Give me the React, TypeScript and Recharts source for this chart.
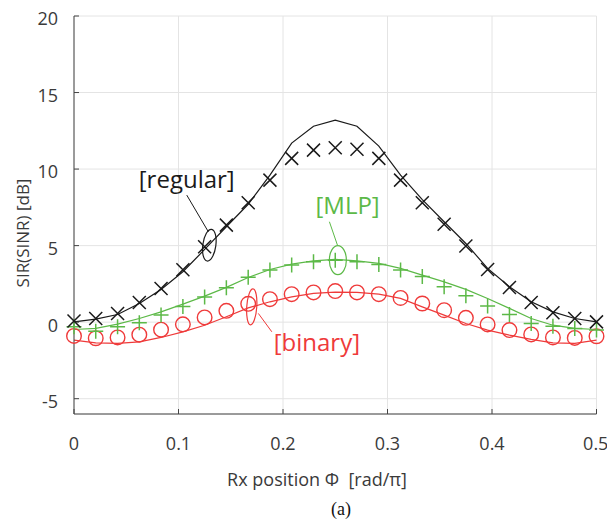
import React from "react"
import {
  ComposedChart,
  Line,
  XAxis,
  YAxis,
  CartesianGrid,
  ReferenceDot,
  ReferenceLine,
} from "recharts"

// Rx position (rad/pi), 25 samples
const positions = [
  0, 0.0208, 0.0417, 0.0625, 0.0833, 0.1042, 0.125, 0.1458, 0.1667, 0.1875, 0.2083, 0.2292, 0.25,
  0.2708, 0.2917, 0.3125, 0.3333, 0.3542, 0.375, 0.3958, 0.4167, 0.4375, 0.4583, 0.4792, 0.5,
]

// [regular]
const regularMarks = [
  0.08, 0.24, 0.57, 1.29, 2.2, 3.42, 4.92, 6.34, 7.8, 9.28, 10.7, 11.24, 11.39, 11.29, 10.7, 9.28,
  7.8, 6.4, 4.97, 3.44, 2.27, 1.29, 0.61, 0.24, 0.02,
]
const regularCurve = [
  0.02, 0.2, 0.5, 1.22, 2.14, 3.29, 4.75, 6.23, 7.7, 9.6, 11.7, 12.8, 13.2, 12.8, 11.5, 9.6, 8.0,
  6.56, 5.14, 3.51, 2.31, 1.33, 0.67, 0.24, 0.02,
]

// [MLP]
const mlpMarks = [
  -0.3, -0.6, -0.3, -0.04, 0.46, 1.02, 1.65, 2.24, 2.93, 3.4, 3.73, 3.94, 4.05, 3.94, 3.77, 3.4,
  2.98, 2.31, 1.72, 1.05, 0.5, -0.09, -0.26, -0.41, -0.52,
]
const mlpCurve = [
  -0.48, -0.41, -0.13, 0.24, 0.67, 1.18, 1.7, 2.27, 2.92, 3.44, 3.79, 4.0, 4.1, 4.0, 3.84, 3.51,
  3.07, 2.63, 2.14, 1.55, 0.9, 0.24, -0.2, -0.41, -0.48,
]

// [binary]
const binaryMarks = [
  -0.9, -1.05, -1.0, -0.82, -0.49, -0.14, 0.31, 0.74, 1.2, 1.5, 1.83, 1.94, 2.03, 1.94, 1.83, 1.58,
  1.22, 0.78, 0.28, -0.15, -0.52, -0.8, -1.0, -1.03, -0.92,
]
const binaryCurve = [
  -1.18, -1.35, -1.39, -1.29, -1.0, -0.63, -0.2, 0.35, 0.93, 1.33, 1.65, 1.88, 1.96, 1.94, 1.83,
  1.55, 1.0, 0.46, -0.09, -0.52, -0.85, -1.13, -1.35, -1.39, -1.18,
]

const xTicks = [0, 0.1, 0.2, 0.3, 0.4, 0.5]
const yTicks = [-5, 0, 5, 10, 15, 20]

const BLACK = "#1a1a1a"
const GREEN = "#5cb947"
const RED = "#ef3a3a"
const FONT = "'Open Sans', sans-serif"

const data = positions.map((x, i) => ({
  x,
  regM: regularMarks[i],
  regL: regularCurve[i],
  mlpM: mlpMarks[i],
  mlpL: mlpCurve[i],
  binM: binaryMarks[i],
  binL: binaryCurve[i],
}))

const crossDot = (props: any) => {
  const { cx, cy, index } = props
  const s = 6.5
  return (
    <path
      key={`x-${index}`}
      d={`M${cx - s},${cy - s}L${cx + s},${cy + s}M${cx - s},${cy + s}L${cx + s},${cy - s}`}
      stroke={BLACK}
      strokeWidth={1.5}
      fill="none"
    />
  )
}

const plusDot = (props: any) => {
  const { cx, cy, index } = props
  const s = 7.5
  return (
    <path
      key={`p-${index}`}
      d={`M${cx - s},${cy}L${cx + s},${cy}M${cx},${cy - s}L${cx},${cy + s}`}
      stroke={GREEN}
      strokeWidth={1.5}
      fill="none"
    />
  )
}

const circleDot = (props: any) => {
  const { cx, cy, index } = props
  return <circle key={`o-${index}`} cx={cx} cy={cy} r={7.3} stroke={RED} strokeWidth={1.4} fill="none" />
}

const ellipse = (rx: number, ry: number, rot: number, color: string) => (props: any) => (
  <ellipse
    cx={props.cx}
    cy={props.cy}
    rx={rx}
    ry={ry}
    transform={`rotate(${rot} ${props.cx} ${props.cy})`}
    stroke={color}
    strokeWidth={1.2}
    fill="none"
  />
)

const tag = (text: string, color: string) => (props: any) => (
  <text
    x={props.cx}
    y={props.cy}
    textAnchor="middle"
    fill={color}
    fontSize={24}
    fontFamily={FONT}
  >
    {text}
  </text>
)

export default function App() {
  return (
    <div style={{ position: "absolute", left: 0, top: 0, width: 607, height: 521, background: "#fff" }}>
      <ComposedChart
        width={607}
        height={521}
        data={data}
        margin={{ top: 16, right: 10.5, left: 14, bottom: 77 }}
      >
        <CartesianGrid stroke="#e4e4e4" strokeWidth={1} />
        <XAxis
          type="number"
          dataKey="x"
          domain={[0, 0.5]}
          ticks={xTicks}
          height={30}
          tickSize={-5}
          tickMargin={28}
          stroke="#444"
          tick={{ fill: "#3a3a3a", fontSize: 18, fontFamily: FONT }}
        />
        <YAxis
          type="number"
          domain={[-6, 20]}
          ticks={yTicks}
          width={60}
          tickSize={-5}
          tickMargin={21}
          stroke="#444"
          tick={{ fill: "#3a3a3a", fontSize: 18, fontFamily: FONT, dy: 3 }}
        />

        <Line dataKey="binL" stroke={RED} strokeWidth={1.2} dot={false} isAnimationActive={false} />
        <Line dataKey="mlpL" stroke={GREEN} strokeWidth={1.2} dot={false} isAnimationActive={false} />
        <Line dataKey="regL" stroke={BLACK} strokeWidth={1.2} dot={false} isAnimationActive={false} />
        <Line dataKey="binM" stroke="none" dot={circleDot} isAnimationActive={false} />
        <Line dataKey="mlpM" stroke="none" dot={plusDot} isAnimationActive={false} />
        <Line dataKey="regM" stroke="none" dot={crossDot} isAnimationActive={false} />

        {/* annotations */}
        <ReferenceLine segment={[{ x: 0.1079, y: 8.3 }, { x: 0.1286, y: 5.9 }]} stroke={BLACK} strokeWidth={1} />
        <ReferenceDot x={0.1295} y={5.03} r={1} shape={ellipse(6.5, 16, 8, BLACK)} />
        <ReferenceDot x={0.1079} y={8.76} r={1} shape={tag("[regular]", BLACK)} />

        <ReferenceLine segment={[{ x: 0.2444, y: 6.56 }, { x: 0.2521, y: 5.03 }]} stroke={GREEN} strokeWidth={1} />
        <ReferenceDot x={0.2525} y={4.05} r={1} shape={ellipse(8.5, 14.5, 0, GREEN)} />
        <ReferenceDot x={0.2618} y={7.06} r={1} shape={tag("[MLP]", GREEN)} />

        <ReferenceLine segment={[{ x: 0.1764, y: 0.57 }, { x: 0.1893, y: -0.63 }]} stroke={RED} strokeWidth={1} />
        <ReferenceDot x={0.1701} y={1.0} r={1} shape={ellipse(5, 18, 4, RED)} />
        <ReferenceDot x={0.2324} y={-1.9} r={1} shape={tag("[binary]", RED)} />
      </ComposedChart>

      <div
        style={{
          position: "absolute",
          left: 22,
          top: 233,
          transform: "translate(-50%, -50%) rotate(-90deg)",
          whiteSpace: "nowrap",
          fontFamily: FONT,
          fontSize: 17,
          color: "#3a3a3a",
        }}
      >
        SIR(SINR) [dB]
      </div>
      <div
        style={{
          position: "absolute",
          left: 317,
          top: 479,
          transform: "translate(-50%, -50%)",
          whiteSpace: "pre",
          fontFamily: FONT,
          fontSize: 18,
          color: "#3a3a3a",
        }}
      >
        {"Rx position Φ  [rad/π]"}
      </div>
      <div
        style={{
          position: "absolute",
          left: 341,
          top: 509,
          transform: "translate(-50%, -50%)",
          fontFamily: "'Liberation Serif', serif",
          fontSize: 18,
          color: "#111",
        }}
      >
        (a)
      </div>
    </div>
  )
}
